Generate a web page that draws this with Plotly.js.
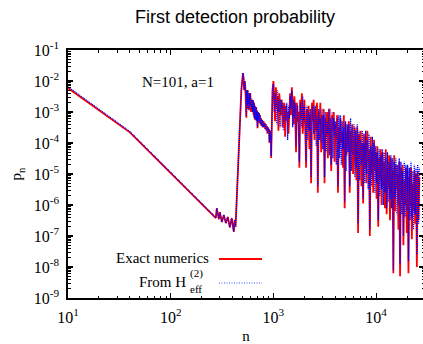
<!DOCTYPE html>
<html>
<head>
<meta charset="utf-8">
<script src="https://cdn.plot.ly/plotly-3.0.1.min.js"></script>
<style>
html,body{margin:0;padding:0;background:#fff;overflow:hidden;}
#chart{width:425px;height:344px;}
</style>
</head>
<body>
<div id="chart"></div>
<script>
// sample positions n (shared by both series)
const nValues = [
10, 40, 275, 281, 294, 301, 315, 329, 344, 360, 376, 393, 411, 420, 428, 487,
505, 512, 519, 526, 533, 539, 545, 550, 556, 561, 567, 573, 579, 584, 590, 595,
604, 608, 613, 620, 627, 634, 641, 647, 653, 659, 665, 670, 675, 680, 685, 692,
700, 708, 716, 724, 732, 740, 749, 757, 766, 778, 790, 800, 810, 821, 832, 844,
856, 865, 875, 885, 895, 905, 915, 925, 935, 943, 950, 963, 980,
1000, 1019, 1038, 1058, 1078, 1098, 1119, 1140, 1162, 1184,
1206, 1229, 1252, 1276, 1300, 1325, 1350, 1375, 1401, 1428,
1455, 1483, 1511, 1540, 1569, 1599, 1629, 1660, 1691, 1723,
1756, 1789, 1823, 1858, 1893, 1929, 1966, 2003, 2041, 2080,
2119, 2159, 2200, 2242, 2285, 2328, 2372, 2417, 2463, 2510,
2558, 2606, 2656, 2706, 2757, 2810, 2863, 2917, 2973, 3029,
3087, 3145, 3205, 3266, 3328, 3391, 3455, 3521, 3588, 3656,
3725, 3796, 3868, 3941, 4016, 4093, 4170, 4250, 4330, 4413,
4496, 4582, 4669, 4757, 4848, 4940, 5034, 5129, 5227, 5326,
5427, 5530, 5635, 5742, 5851, 5962, 6075, 6191, 6308, 6428,
6550, 6675, 6801, 6931, 7062, 7196, 7333, 7472, 7614, 7759,
7906, 8056, 8209, 8365, 8524, 8686, 8851, 9019, 9191, 9365,
9543, 9725, 9909, 10097, 10289, 10485, 10684, 10887, 11094, 11304,
11519, 11738, 11961, 12188, 12420, 12656, 12896, 13141, 13391, 13645,
13904, 14169, 14438, 14712, 14992, 15277, 15567, 15863, 16164, 16471,
16784, 17103, 17428, 17759, 18096, 18440, 18790, 19147, 19511, 19882,
20260, 20645, 21037, 21436, 21844, 22259, 22682, 23113, 23552, 23999,
24455, 24920, 25393, 25876, 26367, 26868, 27379
];

// Exact numerics (red)
const exactP = [
5.9e-3, 2.2e-4, 3.8e-7, 7.9e-7, 3.5e-7, 5.9e-7, 2.8e-7, 4.8e-7, 2.6e-7, 4.1e-7, 1.9e-7, 3.8e-7, 1.35e-7, 3.3e-7, 2.0e-7, 5.0e-3,
1.8e-2, 1.26e-2, 5.0e-3, 1.0e-2, 6.3e-3, 2.5e-3, 6.5e-4, 5.0e-3, 1.6e-3, 5.1e-3, 1.26e-3, 3.2e-3, 1.15e-3, 4.0e-3, 1.6e-3, 4.1e-3,
1.12e-3, 2.5e-3, 1.15e-3, 2.5e-3, 1.0e-3, 2.4e-3, 7.9e-4, 2.0e-3, 6.3e-4, 1.6e-3, 5.5e-4, 1.4e-3, 7.9e-4, 1.45e-3, 5.0e-4, 1.12e-3,
3.0e-4, 1.0e-3, 5.0e-4, 9.3e-4, 4.5e-4, 7.9e-4, 4.0e-4, 6.3e-4, 3.5e-4, 5.6e-4, 3.2e-4, 5.0e-4, 3.2e-4, 4.5e-4, 2.8e-4, 4.0e-4,
2.5e-4, 3.5e-4, 2.0e-4, 3.2e-4, 2.2e-4, 2.8e-4, 1.0e-4, 2.5e-4, 1.26e-4, 2.0e-4, 3.3e-5, 2.5e-3, 5.0e-3,
1.0e-2, 2.5e-3, 5.0e-4, 6.3e-3, 1.26e-3, 3.2e-3, 2.5e-4, 4.0e-3, 1.6e-3, 7.9e-4,
2.5e-3, 3.2e-4, 1.26e-3, 2.0e-3, 1.6e-4, 1.6e-3, 6.3e-4, 1.0e-3, 2.0e-4, 2.0e-3,
4.0e-3, 7.9e-4, 6.3e-3, 1.6e-3, 4.0e-4, 3.2e-3, 1.0e-3, 5.0e-5, 2.0e-3, 5.0e-4,
1.0e-3, 1.6e-5, 2.5e-3, 6.3e-4, 4.0e-3, 2.0e-4, 1.26e-3, 2.5e-3, 4.0e-4, 1.6e-5,
1.26e-3, 3.2e-4, 1.6e-3, 6.3e-5, 7.9e-4, 5.0e-6, 2.0e-3, 5.0e-4, 2.5e-3, 1.26e-4,
1.26e-3, 2.5e-4, 2.0e-3, 2.5e-6, 1.0e-3, 4.0e-4, 2.0e-3, 5.0e-5, 7.9e-4, 2.0e-4,
1.26e-3, 5.0e-6, 6.3e-4, 1.6e-4, 1.0e-3, 3.2e-5, 5.0e-4, 1.26e-3, 1.0e-4, 1.26e-5,
7.9e-4, 2.5e-4, 1.0e-3, 2.5e-5, 4.0e-4, 1.26e-4, 7.9e-4, 2.5e-6, 3.2e-4, 6.3e-5,
6.3e-4, 1.0e-4, 2.5e-4, 1.6e-5, 7.9e-4, 7.9e-7, 4.0e-4, 4.0e-5, 1.6e-4, 3.2e-4,
5.0e-4, 2.5e-6, 2.5e-4, 5.0e-5, 4.0e-4, 1.0e-5, 1.26e-4, 3.2e-4, 2.5e-5, 6.3e-6,
3.2e-4, 1.26e-7, 2.0e-4, 3.2e-5, 2.5e-4, 4.0e-6, 1.0e-4, 1.12e-6, 2.0e-4, 1.6e-5,
1.6e-4, 5.0e-6, 2.5e-4, 2.5e-5, 6.3e-5, 1.0e-7, 1.6e-4, 1.0e-5, 5.0e-5, 2.5e-6,
1.26e-4, 1.26e-5, 5.0e-5, 1.6e-6, 7.9e-5, 2.0e-7, 3.2e-5, 6.3e-6, 6.3e-5, 1.0e-6,
5.0e-5, 4.0e-6, 2.5e-5, 7.9e-7, 6.3e-5, 5.0e-7, 1.6e-5, 3.2e-6, 4.0e-5, 3.2e-7,
3.2e-5, 2.5e-6, 1.26e-5, 6.3e-9, 4.0e-5, 6.3e-7, 2.0e-5, 3.2e-6, 1.0e-5, 1.6e-7,
2.5e-5, 5.0e-9, 1.6e-5, 1.6e-6, 2.0e-5, 5.0e-8, 6.3e-6, 1.0e-6, 1.6e-5, 1.26e-7,
1.26e-5, 6.3e-9, 7.9e-6, 1.0e-6, 1.6e-5, 7.9e-8, 5.0e-6, 6.3e-7, 1.26e-5, 2.5e-7,
1.0e-5, 1.0e-8, 1.26e-5, 3.2e-7, 7.9e-6
];

// From H_eff^(2) (blue, dotted)
const heffP = [
6.5e-3, 2.35e-4, 3.95e-7, 7.9e-7, 3.5e-7, 5.9e-7, 2.8e-7, 4.8e-7, 2.6e-7, 4.1e-7, 1.9e-7, 3.8e-7, 1.4e-7, 3.3e-7, 2.0e-7, 5.0e-3,
1.8e-2, 1.3e-2, 5.2e-3, 1.0e-2, 6.3e-3, 2.6e-3, 7.0e-4, 5.0e-3, 1.7e-3, 5.0e-3, 1.3e-3, 3.2e-3, 1.2e-3, 4.0e-3, 1.6e-3, 4.0e-3,
1.2e-3, 2.5e-3, 1.2e-3, 2.5e-3, 1.0e-3, 2.4e-3, 8.0e-4, 2.0e-3, 6.5e-4, 1.6e-3, 5.8e-4, 1.4e-3, 8.0e-4, 1.45e-3, 5.2e-4, 1.1e-3,
3.2e-4, 1.0e-3, 5.2e-4, 9.3e-4, 4.6e-4, 7.9e-4, 4.1e-4, 6.3e-4, 3.6e-4, 5.6e-4, 3.3e-4, 5.0e-4, 3.3e-4, 4.5e-4, 2.9e-4, 4.0e-4,
2.6e-4, 3.5e-4, 2.1e-4, 3.2e-4, 2.3e-4, 2.8e-4, 1.1e-4, 2.5e-4, 1.3e-4, 2.0e-4, 3.8e-5, 2.5e-3, 5.0e-3,
7.9e-3, 1.0e-3, 4.0e-3, 2.0e-3, 4.0e-4, 5.0e-3, 1.0e-3, 2.5e-3, 3.2e-4, 2.5e-3,
1.26e-3, 2.0e-3, 2.5e-4, 1.6e-3, 7.9e-4, 5.0e-4, 2.0e-3, 1.26e-4, 1.6e-3, 6.3e-4,
3.2e-3, 1.26e-3, 5.0e-3, 3.2e-4, 2.5e-3, 6.3e-4, 2.0e-3, 7.9e-5, 1.0e-3, 1.6e-3,
4.0e-4, 2.5e-5, 2.0e-3, 1.0e-3, 3.2e-4, 3.2e-3, 5.0e-4, 1.6e-3, 1.26e-4, 2.5e-5,
1.6e-3, 1.26e-4, 1.0e-3, 2.5e-4, 1.26e-3, 7.9e-6, 6.3e-4, 1.6e-3, 2.0e-4, 5.0e-4,
1.6e-3, 7.9e-5, 7.9e-4, 4.0e-6, 1.26e-3, 1.26e-4, 6.3e-4, 1.0e-4, 1.26e-3, 6.3e-5,
7.9e-4, 7.9e-6, 1.0e-3, 5.0e-5, 5.0e-4, 2.0e-4, 1.26e-3, 4.0e-5, 6.3e-4, 2.0e-5,
1.0e-3, 3.2e-5, 6.3e-4, 1.6e-4, 5.0e-4, 2.0e-5, 6.3e-4, 4.0e-6, 7.9e-4, 3.2e-5,
7.9e-4, 2.0e-5, 5.0e-4, 6.3e-5, 3.2e-4, 1.26e-6, 5.0e-4, 1.26e-5, 4.0e-4, 5.0e-5,
4.0e-4, 4.0e-6, 6.3e-4, 1.26e-5, 3.2e-4, 4.0e-5, 4.0e-4, 7.9e-6, 2.5e-4, 1.6e-5,
4.0e-4, 2.5e-7, 2.5e-4, 6.3e-6, 1.26e-4, 2.0e-5, 2.5e-4, 1.6e-6, 1.0e-4, 5.0e-6,
2.5e-4, 1.0e-5, 1.26e-4, 3.2e-6, 2.0e-4, 1.6e-7, 7.9e-5, 4.0e-6, 1.6e-4, 6.3e-6,
1.0e-4, 2.5e-6, 7.9e-5, 5.0e-6, 5.0e-5, 3.2e-7, 6.3e-5, 2.0e-6, 4.0e-5, 3.2e-6,
6.3e-5, 1.0e-6, 5.0e-5, 2.5e-6, 3.2e-5, 7.9e-7, 5.0e-5, 1.26e-6, 2.5e-5, 1.6e-6,
4.0e-5, 7.9e-7, 3.2e-5, 7.9e-9, 2.5e-5, 1.6e-6, 3.2e-5, 5.0e-7, 2.0e-5, 1.0e-6,
3.2e-5, 1.26e-8, 2.5e-5, 5.0e-7, 1.26e-5, 1.0e-7, 2.5e-5, 4.0e-7, 2.0e-5, 6.3e-7,
2.0e-5, 1.6e-8, 1.6e-5, 3.2e-7, 2.5e-5, 4.0e-7, 1.26e-5, 1.6e-7, 2.0e-5, 5.0e-7,
1.6e-5, 2.5e-8, 2.0e-5, 2.5e-7, 1.6e-5
];

// tick labels
const xTickVals = [10, 100, 1000, 10000];
const xTickText = ['10<sup>1</sup>', '10<sup>2</sup>', '10<sup>3</sup>', '10<sup>4</sup>'];
const yTickVals = [1e-9, 1e-8, 1e-7, 1e-6, 1e-5, 1e-4, 1e-3, 1e-2, 1e-1];
const yTickText = ['10<sup>-9</sup>', '10<sup>-8</sup>', '10<sup>-7</sup>', '10<sup>-6</sup>', '10<sup>-5</sup>',
                   '10<sup>-4</sup>', '10<sup>-3</sup>', '10<sup>-2</sup>', '10<sup>-1</sup>'];

const serif = 'Liberation Serif, Times New Roman, serif';
const sans = 'Liberation Sans, Arial, Helvetica, sans-serif';

const traces = [
  {x: nValues, y: exactP, type: 'scatter', mode: 'lines', name: 'Exact numerics',
   line: {color: '#ff0000', width: 1.8}},
  {x: nValues, y: heffP, type: 'scatter', mode: 'lines', name: 'From H_eff',
   line: {color: '#0000ff', width: 1.3, dash: '1px,1px'}}
];

function axisCommon() {
  return {
    type: 'log', showline: true, linecolor: '#000', linewidth: 1.6, mirror: 'ticks',
    ticks: 'inside', ticklen: 5, tickwidth: 1.2, tickcolor: '#000',
    tickmode: 'array',
    minor: {ticks: 'inside', ticklen: 2.5, tickwidth: 1, tickcolor: '#000', dtick: 'D1', showgrid: false},
    showgrid: false, zeroline: false,
    tickfont: {family: serif, size: 16, color: '#000'}
  };
}

const xaxis = Object.assign(axisCommon(), {
  range: [1, 4.466], tickvals: xTickVals, ticktext: xTickText, ticklabelstandoff: 4,
  title: {text: 'n', font: {family: serif, size: 15, color: '#000'}, standoff: 8}
});
const yaxis = Object.assign(axisCommon(), {
  range: [-9, -1], tickvals: yTickVals, ticktext: yTickText, ticklabelstandoff: 4,
  title: {text: 'p<sub>n</sub>', font: {family: serif, size: 15, color: '#000'}, standoff: 8}
});

const W = 356, H = 248;
function px(x) { return (x - 68) / W; }
function py(y) { return (298 - y) / H; }

const layout = {
  width: 425, height: 344,
  margin: {l: 68, r: 1, t: 50, b: 46},
  paper_bgcolor: '#fff', plot_bgcolor: '#fff',
  showlegend: false,
  title: {text: 'First detection probability', font: {family: sans, size: 18, color: '#000'},
          xref: 'container', x: 235 / 425, xanchor: 'center',
          yref: 'container', y: 1 - 17 / 344, yanchor: 'middle'},
  xaxis: xaxis, yaxis: yaxis,
  annotations: [
    {text: 'N=101, a=1', xref: 'paper', yref: 'paper', x: px(177.5), y: py(82), xanchor: 'center', yanchor: 'middle',
     showarrow: false, font: {family: serif, size: 15, color: '#000'}},
    {text: 'Exact numerics', xref: 'paper', yref: 'paper', x: px(211), y: py(258), xanchor: 'right', yanchor: 'middle',
     showarrow: false, font: {family: serif, size: 15, color: '#000'}},
    {text: 'From H', xref: 'paper', yref: 'paper', x: px(188), y: py(282), xanchor: 'right', yanchor: 'middle',
     showarrow: false, font: {family: serif, size: 15, color: '#000'}},
    {text: '(2)', xref: 'paper', yref: 'paper', x: px(187.5), y: py(273), xanchor: 'left', yanchor: 'middle',
     showarrow: false, font: {family: serif, size: 11, color: '#000'}},
    {text: 'eff', xref: 'paper', yref: 'paper', x: px(187.5), y: py(289), xanchor: 'left', yanchor: 'middle',
     showarrow: false, font: {family: serif, size: 11, color: '#000'}}
  ],
  shapes: [
    {type: 'line', xref: 'paper', yref: 'paper', x0: px(219), x1: px(262), y0: py(259), y1: py(259),
     line: {color: '#ff0000', width: 1.8}},
    {type: 'line', xref: 'paper', yref: 'paper', x0: px(219), x1: px(262), y0: py(283), y1: py(283),
     line: {color: '#3355ff', width: 1.1, dash: '1px,1.5px'}}
  ]
};

Plotly.newPlot('chart', traces, layout, {staticPlot: true, displayModeBar: false});
</script>
</body>
</html>
